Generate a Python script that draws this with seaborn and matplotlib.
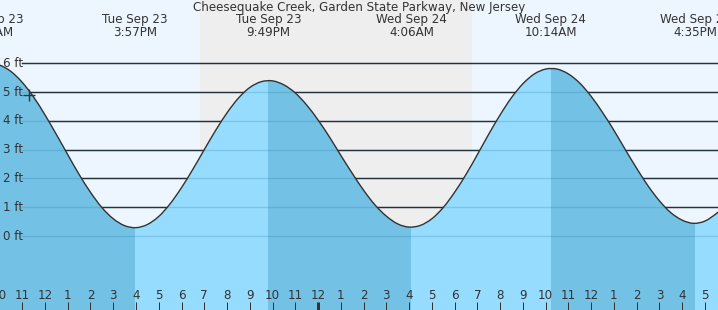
import numpy as np
import pandas as pd
import matplotlib
matplotlib.use("Agg")
import matplotlib.pyplot as plt
from matplotlib.path import Path
from matplotlib.patches import PathPatch
import seaborn as sns

# ---------------- data (hours from Tue Sep 23 00:00) ----------------
title = "Cheesequake Creek, Garden State Parkway, New Jersey"

event_hours = [9.60, 15.95, 21.82, 28.10, 34.23, 40.58]
event_heights = [6.00, 0.29, 5.40, 0.31, 5.82, 0.44]
event_days = ["Tue Sep 23", "Tue Sep 23", "Tue Sep 23", "Wed Sep 24", "Wed Sep 24", "Wed Sep 24"]
event_times = ["9:36AM", "3:57PM", "9:49PM", "4:06AM", "10:14AM", "4:35PM"]

sample_hours = [9.5 + 0.5 * i for i in range(66)]
sample_heights = [
    6.00,
    5.94, 5.72, 5.34, 4.83, 4.21, 3.53, 2.83, 2.14, 1.52, 0.99, 0.60, 0.36,
    0.29, 0.40, 0.68, 1.12, 1.68, 2.32, 3.00, 3.67, 4.28, 4.79, 5.16, 5.36,
    5.39, 5.25, 4.97, 4.55, 4.03, 3.44, 2.80, 2.18, 1.59, 1.08, 0.69, 0.42,
    0.31, 0.37, 0.60, 0.99, 1.52, 2.14, 2.83, 3.54, 4.21, 4.81, 5.29, 5.63,
    5.80, 5.80, 5.63, 5.31, 4.85, 4.29, 3.67, 3.00, 2.35, 1.74, 1.22, 0.81,
    0.55, 0.44, 0.52, 0.78, 1.12,
]

now_hour = [11.32]
now_height = [4.90]

sunset_hour = 18.83
sunrise_hour = 30.78

ft_levels = [0, 1, 2, 3, 4, 5, 6]
hour_ticks = list(range(10, 42))

# ---------------- styling ----------------
DAY_BG = "#EDF6FF"
NIGHT_BG = "#EEEEEE"
FILL_LIGHT = "#96DCFF"
FILL_DARK = "#73C2E6"
INK = "#333333"
FS = 8.6

plt.rcParams["font.family"] = ["DejaVu Sans"]

df = pd.DataFrame({"hour": sample_hours, "height": sample_heights})

W, H = 718, 310
fig = plt.figure(figsize=(W / 100, H / 100), dpi=100, facecolor=DAY_BG)
ax = fig.add_axes([0, 0, 1, 1])
ax.set_facecolor(DAY_BG)
ax.set_xlim(10.025, 10.025 + W / 22.76)
ax.set_ylim(-74 / 28.78, 236 / 28.78)
for s in ax.spines.values():
    s.set_visible(False)

# night shading
ax.axvspan(sunset_hour, sunrise_hour, color=NIGHT_BG, zorder=0, lw=0)

# grid lines (behind fill)
x_start = 22 / W
for lv in ft_levels[1:]:
    ax.axhline(lv, xmin=x_start, xmax=1, color="#222222", lw=1.0, zorder=1)

# the series through seaborn; rendered as a smooth curve through the same points
sns.lineplot(data=df, x="hour", y="height", ax=ax, color=INK, lw=1.0,
             estimator=None, sort=True, zorder=4)
raw_line = ax.lines[-1]
pts = raw_line.get_xydata()
raw_line.set_visible(False)

n = len(pts)
verts = [tuple(pts[0])]
codes = [Path.MOVETO]
for i in range(n - 1):
    p0 = pts[i - 1] if i > 0 else pts[i]
    p1 = pts[i]
    p2 = pts[i + 1]
    p3 = pts[i + 2] if i + 2 < n else pts[i + 1]
    c1 = p1 + (p2 - p0) / 6.0
    c2 = p2 - (p3 - p1) / 6.0
    verts += [tuple(c1), tuple(c2), tuple(p2)]
    codes += [Path.CURVE4] * 3
curve_path = Path(verts, codes)

fill_verts = verts + [(pts[-1][0], -6), (pts[0][0], -6), (pts[0][0], -6)]
fill_codes = codes + [Path.LINETO, Path.LINETO, Path.CLOSEPOLY]
fill_path = Path(fill_verts, fill_codes)

fill_patch = PathPatch(fill_path, facecolor=FILL_LIGHT, edgecolor="none", zorder=2)
ax.add_patch(fill_patch)
for a, b, ha, hb in zip(event_hours[:-1], event_hours[1:], event_heights[:-1], event_heights[1:]):
    if ha > hb:  # falling tide -> darker
        span = ax.axvspan(a, b, color=FILL_DARK, lw=0, zorder=2.5)
        span.set_clip_path(fill_patch)

# grid lines seen through fill
for lv in ft_levels:
    ax.axhline(lv, xmin=x_start, xmax=1, color="#1f6fa0", alpha=0.22, lw=1.0, zorder=3)

ax.add_patch(PathPatch(curve_path, facecolor="none", edgecolor=INK, lw=1.0, zorder=4))

# current time marker
sns.scatterplot(x=now_hour, y=now_height, ax=ax, marker="+", s=70, color=INK,
                linewidth=1.0, zorder=5)

ax.set_xlabel("")
ax.set_ylabel("")
ax.set_xticks([])
ax.set_yticks([])
ax.set_xlim(10.025, 10.025 + W / 22.76)
ax.set_ylim(-74 / 28.78, 236 / 28.78)

# y labels
ytr = ax.get_yaxis_transform()
for lv in ft_levels:
    ax.text(3 / W, lv, f"{lv} ft", transform=ytr, ha="left", va="center",
            fontsize=FS, color=INK, zorder=6)

# hour labels and ticks along the bottom
xtr = ax.get_xaxis_transform()
for h in hour_ticks:
    lab = str((h - 1) % 12 + 1)
    ax.text(h, 1 - 295.5 / H, lab, transform=xtr, ha="center", va="center",
            fontsize=FS, color=INK, zorder=6)
    lw = 3.0 if h % 24 == 0 else 1.0
    ax.plot([h, h], [0, 8 / H], transform=xtr, color=INK, lw=lw * 0.72,
            solid_capstyle="butt", zorder=6)

# event labels at top
for t, d, tm in zip(event_hours, event_days, event_times):
    ax.text(t, 1 - 20 / H, d, transform=xtr, ha="center", va="center",
            fontsize=FS, color=INK, zorder=6)
    ax.text(t, 1 - 32 / H, tm, transform=xtr, ha="center", va="center",
            fontsize=FS, color=INK, zorder=6)

ax.text(0.5, 1 - 8 / H, title, transform=ax.transAxes, ha="center", va="center",
        fontsize=FS, color=INK, zorder=6)

fig.savefig("out.png", dpi=100, facecolor=DAY_BG)
